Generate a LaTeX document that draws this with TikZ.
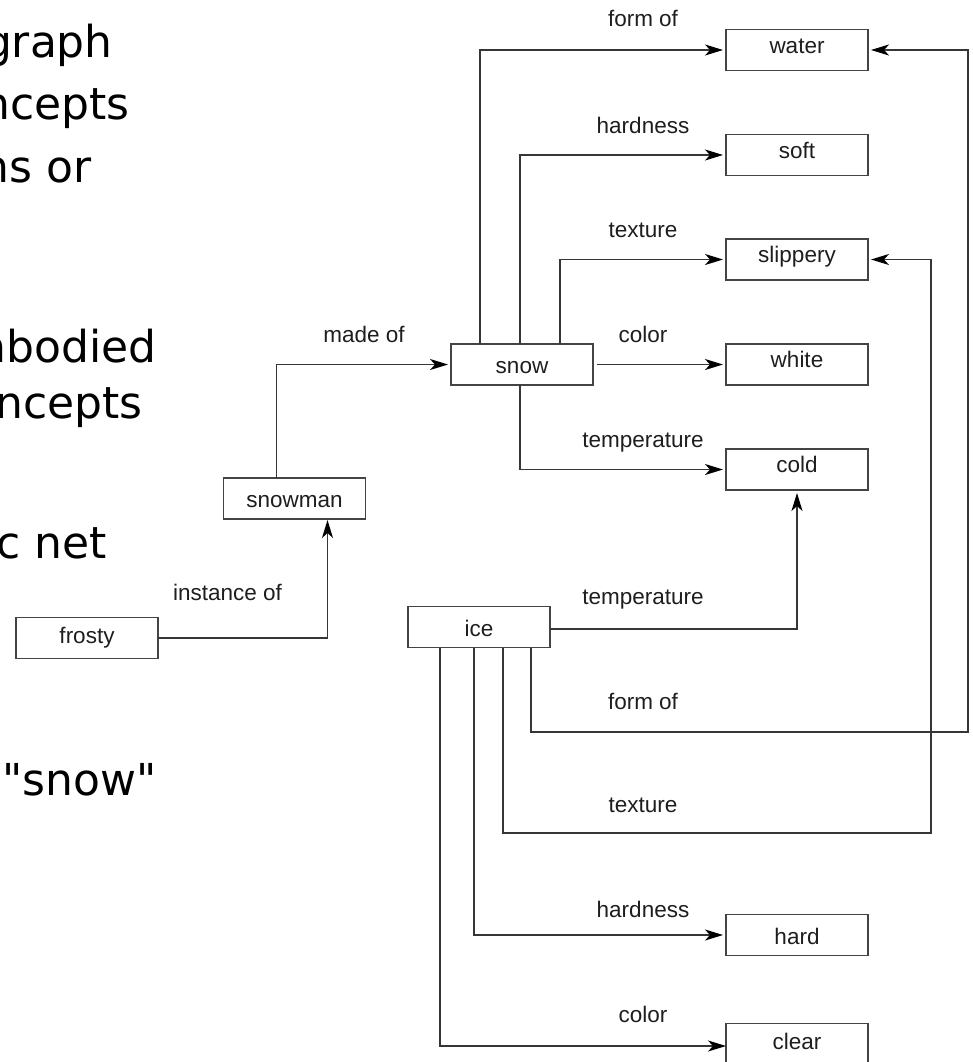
\documentclass[tikz,border=0pt]{standalone}
\usepackage{fontspec}
\setmainfont{Liberation Sans}
\newfontfamily\slidefont{DejaVu Sans}
\newfontfamily\labfont{Liberation Sans}
\usetikzlibrary{arrows.meta}
\definecolor{linegray}{HTML}{363636}
\definecolor{boxgray}{HTML}{444444}
\definecolor{labtext}{HTML}{1E1E1E}
\begin{document}
\begin{tikzpicture}[x=1pt,y=-1pt,
  box/.style={draw=boxgray, line width=1.7pt, minimum width=142pt, minimum height=41pt,
    inner sep=0pt, outer sep=0pt, text height=13.3pt, text depth=6.7pt,
    font=\labfont\fontsize{22.5}{27}\selectfont, text=labtext},
  lowtext/.style={text height=19pt, text depth=1pt},
  midtext/.style={text height=15.5pt, text depth=4.5pt},
  lbl/.style={anchor=base, inner sep=0pt, font=\labfont\fontsize{22.5}{27}\selectfont, text=labtext},
  conn/.style={draw=linegray, line width=1.5pt},
  arr/.style={conn, -{Stealth[length=18pt,width=11pt,inset=5pt,color=black]}, shorten >=3pt},
  slide/.style={anchor=base east, inner sep=0pt, font=\slidefont\fontsize{44}{50}\selectfont, text=black}]
\useasboundingbox (0,0) rectangle (972,1062);
\fill[white] (0,0) rectangle (972,1062);
\clip (0,0) rectangle (972,1062);

% slide text fragments (cut off at the left edge, as in the reference)
\node[slide] (t1) at (113,58) {graph};
\node[slide] (t2) at (130,120) {ncepts};
\node[slide] (t3) at (92,182) {ns or};
\node[slide] (t4) at (157,362) {nbodied};
\node[slide] (t5) at (143,418) {ncepts};
\node[slide] (t6) at (107,558) {c net};
\node[slide] (t7) at (157,795) {o "snow"};

% boxes
\node[box] (water) at (797,50) {water};
\node[box] (soft) at (797,155) {soft};
\node[box] (slippery) at (797,259.5) {slippery};
\node[box] (white) at (797,364.5) {white};
\node[box] (cold) at (797,469.5) {cold};
\node[box, lowtext] (hard) at (797,935) {hard};
\node[box, midtext] (clear) at (797,1044) {clear};
\node[box, lowtext] (snow) at (522,364.5) {snow};
\node[box, lowtext] (snowman) at (294.5,498.5) {snowman};
\node[box, midtext] (frosty) at (87,638) {frosty};
\node[box, lowtext] (ice) at (479,627) {ice};

% bend points
\coordinate (bendA) at (968,732);
\coordinate (bendB) at (931,833);

% connectors from snow
\draw[arr] ([xshift=29pt]snow.north west) |- (water.west);
\draw[arr] ([xshift=69pt]snow.north west) |- (soft.west);
\draw[arr] ([xshift=109pt]snow.north west) |- (slippery.west);
\draw[arr, shorten <=4pt] (snow.east) -- (white.west);
\draw[arr] ([xshift=69pt]snow.south west) |- (cold.west);

% snowman, frosty
\draw[arr] ([xshift=53pt]snowman.north west) |- (snow.west);
\draw[arr, shorten >=1pt] (frosty.east) -| ([xshift=104pt]snowman.south west);

% connectors from ice
\draw[arr] ([yshift=-2pt]ice.east) -| (cold.south);
\draw[arr] ([xshift=123pt]ice.south west) |- (bendA) |- (water.east);
\draw[arr] ([xshift=95pt]ice.south west) |- (bendB) |- (slippery.east);
\draw[arr] ([xshift=66pt]ice.south west) |- (hard.west);
\draw[arr, shorten >=0pt] ([xshift=32pt]ice.south west) |- ([yshift=-2pt]clear.west);

% edge labels
\node[lbl] (l1) at (643,27) {form of};
\node[lbl] (l2) at (643,133) {hardness};
\node[lbl] (l3) at (643,237) {texture};
\node[lbl] (l4) at (643,342) {color};
\node[lbl] (l5) at (643,447) {temperature};
\node[lbl] (l6) at (364,342) {made of};
\node[lbl] (l7) at (227.5,600) {instance of};
\node[lbl] (l8) at (643,604) {temperature};
\node[lbl] (l9) at (643,709) {form of};
\node[lbl] (l10) at (643,812) {texture};
\node[lbl] (l11) at (643,917) {hardness};
\node[lbl] (l12) at (643,1022) {color};
\end{tikzpicture}
\end{document}
